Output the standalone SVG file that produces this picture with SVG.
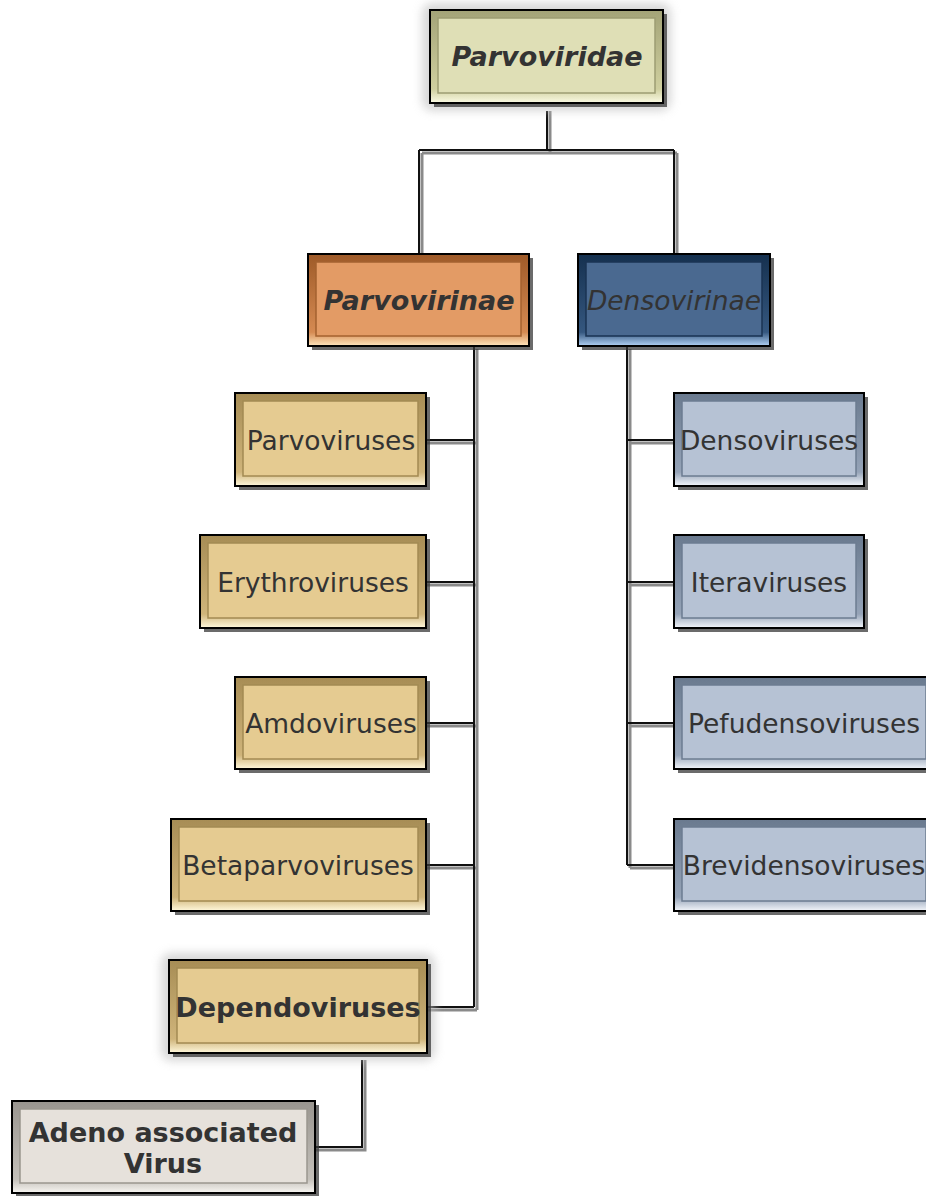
<svg xmlns="http://www.w3.org/2000/svg" width="926" height="1196" viewBox="0 0 926 1196">
<defs>
<style>
.t{font-family:"DejaVu Sans","Verdana",sans-serif;fill:#333;text-anchor:middle;dominant-baseline:central}
.r{font-size:26.5px}
.b{font-size:27px;font-weight:bold}
.sh{fill:#3a3a3a;opacity:0.75}
.ol{stroke:#000;stroke-width:2}
.ln{fill:none;stroke:#111;stroke-width:2}
.lns{fill:none;stroke:#8a8a8a;stroke-width:3}
</style>
<linearGradient id="gOl" x1="0" y1="0" x2="0" y2="1"><stop offset="0" stop-color="#a3a377"/><stop offset="0.85" stop-color="#cfcf9f"/><stop offset="1" stop-color="#fbfbe4"/></linearGradient>
<linearGradient id="gOr" x1="0" y1="0" x2="0" y2="1"><stop offset="0" stop-color="#9e5a28"/><stop offset="0.85" stop-color="#d58a52"/><stop offset="1" stop-color="#ffe6bd"/></linearGradient>
<linearGradient id="gBl" x1="0" y1="0" x2="0" y2="1"><stop offset="0" stop-color="#15304f"/><stop offset="0.85" stop-color="#35577f"/><stop offset="1" stop-color="#b2d2f5"/></linearGradient>
<linearGradient id="gTa" x1="0" y1="0" x2="0" y2="1"><stop offset="0" stop-color="#a78d55"/><stop offset="0.85" stop-color="#cfb47a"/><stop offset="1" stop-color="#fff8dc"/></linearGradient>
<linearGradient id="gLb" x1="0" y1="0" x2="0" y2="1"><stop offset="0" stop-color="#6a7a8f"/><stop offset="0.85" stop-color="#95a3b7"/><stop offset="1" stop-color="#f3f6fb"/></linearGradient>
<linearGradient id="gGr" x1="0" y1="0" x2="0" y2="1"><stop offset="0" stop-color="#99958f"/><stop offset="0.85" stop-color="#c4c0ba"/><stop offset="1" stop-color="#f8f6f2"/></linearGradient>
<filter id="glow" x="-20%" y="-20%" width="140%" height="140%"><feGaussianBlur stdDeviation="5"/></filter>
</defs>

<g id="connectors">
<path class="lns" d="M550 111 V153 M422 153 H677 M422 153 V254 M677 153 V254"/>
<path class="ln" d="M547 111 V150 M419 150 H674 M419 150 V254 M674 150 V254"/>
<path class="lns" d="M477 349 V1010 M426 443 H477 M426 585 H477 M426 726 H477 M426 868 H477 M427 1010 H477"/>
<path class="ln" d="M474 346 V1007 M426 440 H474 M426 582 H474 M426 723 H474 M426 865 H474 M427 1007 H474"/>
<path class="lns" d="M630 349 V868 M630 443 H674 M630 585 H674 M630 726 H674 M630 868 H674"/>
<path class="ln" d="M627 346 V865 M627 440 H674 M627 582 H674 M627 723 H674 M627 865 H674"/>
<path class="lns" d="M365 1060 V1150 H315"/>
<path class="ln" d="M362 1060 V1147 H315"/>
</g>

<g id="n-parvoviridae">
<rect x="422" y="3" width="249" height="108" rx="10" fill="#bdbdbd" opacity="0.6" filter="url(#glow)"/>
<rect x="434" y="14" width="233" height="93" class="sh"/>
<rect x="430" y="10" width="233" height="93" fill="url(#gOl)" class="ol"/>
<rect x="438" y="18" width="217" height="75" fill="#dfdfb6" stroke="#9d9d73" stroke-width="1.5"/>
<text x="547" y="56" class="t b" font-style="italic">Parvoviridae</text>
</g>

<g id="n-parvovirinae">
<rect x="312" y="258" width="221" height="92" class="sh"/>
<rect x="308" y="254" width="221" height="92" fill="url(#gOr)" class="ol"/>
<rect x="316" y="262" width="205" height="74" fill="#e39b65" stroke="#a4622f" stroke-width="1.5"/>
<text x="419" y="300" class="t b" font-style="italic">Parvovirinae</text>
</g>

<g id="n-densovirinae">
<rect x="582" y="258" width="192" height="92" class="sh"/>
<rect x="578" y="254" width="192" height="92" fill="url(#gBl)" class="ol"/>
<rect x="586" y="262" width="176" height="74" fill="#4a6990" stroke="#1a3353" stroke-width="1.5"/>
<text x="674" y="300" class="t r" font-style="italic" font-size="27.5">Densovirinae</text>
</g>

<g id="n-parvoviruses">
<rect x="239" y="397" width="191" height="93" class="sh"/>
<rect x="235" y="393" width="191" height="93" fill="url(#gTa)" class="ol"/>
<rect x="243" y="401" width="175" height="75" fill="#e5cb91" stroke="#a38a53" stroke-width="1.5"/>
<text x="331" y="440" class="t r">Parvoviruses</text>
</g>

<g id="n-erythroviruses">
<rect x="204" y="539" width="226" height="93" class="sh"/>
<rect x="200" y="535" width="226" height="93" fill="url(#gTa)" class="ol"/>
<rect x="208" y="543" width="210" height="75" fill="#e5cb91" stroke="#a38a53" stroke-width="1.5"/>
<text x="313" y="582" class="t r">Erythroviruses</text>
</g>

<g id="n-amdoviruses">
<rect x="239" y="681" width="191" height="92" class="sh"/>
<rect x="235" y="677" width="191" height="92" fill="url(#gTa)" class="ol"/>
<rect x="243" y="685" width="175" height="74" fill="#e5cb91" stroke="#a38a53" stroke-width="1.5"/>
<text x="331" y="723" class="t r">Amdoviruses</text>
</g>

<g id="n-betaparvoviruses">
<rect x="175" y="823" width="255" height="92" class="sh"/>
<rect x="171" y="819" width="255" height="92" fill="url(#gTa)" class="ol"/>
<rect x="179" y="827" width="239" height="74" fill="#e5cb91" stroke="#a38a53" stroke-width="1.5"/>
<text x="298" y="865" class="t r">Betaparvoviruses</text>
</g>

<g id="n-dependoviruses">
<rect x="161" y="953" width="274" height="108" rx="10" fill="#bdbdbd" opacity="0.6" filter="url(#glow)"/>
<rect x="173" y="964" width="258" height="93" class="sh"/>
<rect x="169" y="960" width="258" height="93" fill="url(#gTa)" class="ol"/>
<rect x="177" y="968" width="242" height="75" fill="#e5cb91" stroke="#a38a53" stroke-width="1.5"/>
<text x="298" y="1007" class="t b" font-size="28">Dependoviruses</text>
</g>

<g id="n-aav">
<rect x="16" y="1105" width="303" height="92" class="sh"/>
<rect x="12" y="1101" width="303" height="92" fill="url(#gGr)" class="ol"/>
<rect x="20" y="1109" width="287" height="74" fill="#e6e1db" stroke="#9a968f" stroke-width="1.5"/>
<text x="163" y="1132" class="t b" font-size="26">Adeno associated</text>
<text x="163" y="1163" class="t b" font-size="26">Virus</text>
</g>

<g id="n-densoviruses">
<rect x="678" y="397" width="190" height="93" class="sh"/>
<rect x="674" y="393" width="190" height="93" fill="url(#gLb)" class="ol"/>
<rect x="682" y="401" width="174" height="75" fill="#b6c2d4" stroke="#6c7c91" stroke-width="1.5"/>
<text x="769" y="440" class="t r">Densoviruses</text>
</g>

<g id="n-iteraviruses">
<rect x="678" y="539" width="190" height="93" class="sh"/>
<rect x="674" y="535" width="190" height="93" fill="url(#gLb)" class="ol"/>
<rect x="682" y="543" width="174" height="75" fill="#b6c2d4" stroke="#6c7c91" stroke-width="1.5"/>
<text x="769" y="582" class="t r">Iteraviruses</text>
</g>

<g id="n-pefudensoviruses">
<rect x="678" y="681" width="260" height="92" class="sh"/>
<rect x="674" y="677" width="260" height="92" fill="url(#gLb)" class="ol"/>
<rect x="682" y="685" width="244" height="74" fill="#b6c2d4" stroke="#6c7c91" stroke-width="1.5"/>
<text x="804" y="723" class="t r">Pefudensoviruses</text>
</g>

<g id="n-brevidensoviruses">
<rect x="678" y="823" width="260" height="92" class="sh"/>
<rect x="674" y="819" width="260" height="92" fill="url(#gLb)" class="ol"/>
<rect x="682" y="827" width="244" height="74" fill="#b6c2d4" stroke="#6c7c91" stroke-width="1.5"/>
<text x="804" y="865" class="t r">Brevidensoviruses</text>
</g>
</svg>
